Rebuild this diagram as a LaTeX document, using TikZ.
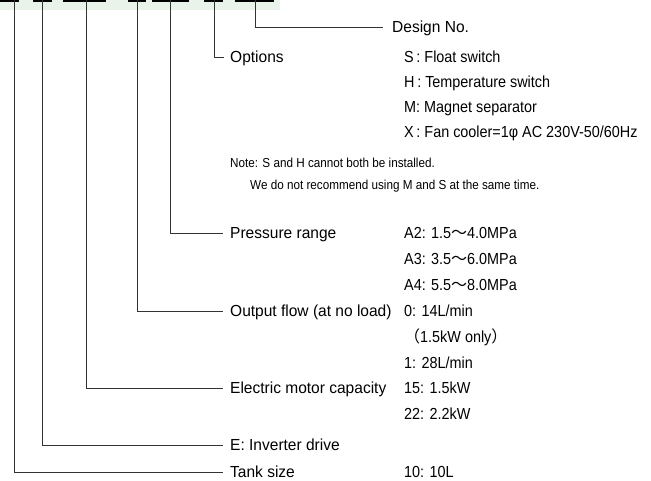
\documentclass[tikz,border=0pt]{standalone}
\usepackage{fontspec}
\setmainfont{Liberation Sans}[FakeStretch=0.9]
\newfontfamily\lblfont{Liberation Sans}[FakeStretch=0.97]
\newfontfamily\cjkfont{Noto Sans CJK JP}
\definecolor{bandgreen}{HTML}{EAF3EA}
\definecolor{linegray}{HTML}{333333}
\newcommand{\wv}{{\cjkfont ～}}
\begin{document}
\begin{tikzpicture}[x=1pt,y=-1pt,
  lbl/.style={anchor=west,inner xsep=7pt,inner ysep=0pt,text height=11pt,text depth=0pt,font=\lblfont\fontsize{16}{16}\selectfont},
  val/.style={anchor=west,inner sep=0pt,text height=11pt,text depth=0pt,font=\fontsize{16}{16}\selectfont},
  notetext/.style={anchor=west,inner sep=0pt,text height=8.5pt,text depth=0pt,font=\fontsize{13}{13}\selectfont},
  conn/.style={draw=linegray,line width=0.9pt},
  seg/.style={draw=black,line width=1.8pt}]
\useasboundingbox (0,0) rectangle (651,481);
\fill[bandgreen] (0,0) rectangle (280,10);
% top segments
\draw[seg] (0,0.9) -- (19,0.9);
\draw[seg] (33,0.9) -- (52,0.9);
\draw[seg] (63,0.9) -- (106,0.9);
\draw[seg] (128,0.9) -- (146,0.9);
\draw[seg] (152,0.9) -- (189,0.9);
\draw[seg] (204,0.9) -- (223,0.9);
\draw[seg] (235,0.9) -- (274,0.9);
\coordinate (t1) at (14,0);
\coordinate (t2) at (42,0);
\coordinate (t3) at (86,0);
\coordinate (t4) at (137,0);
\coordinate (t5) at (170,0);
\coordinate (t6) at (214,0);
\coordinate (t7) at (255,0);
% labels
\node[lbl,inner xsep=9pt] (design) at (383,27) {Design No.};
\node[lbl,inner xsep=6pt] (options) at (224,57) {Options};
\node[lbl] (pressure) at (223,233) {Pressure range};
\node[lbl] (flow) at (223,311) {Output flow (at no load)};
\node[lbl] (motor) at (223,388) {Electric motor capacity};
\node[lbl] (inverter) at (223,445) {E: Inverter drive};
\node[lbl] (tank) at (223,472) {Tank size};
% values
\node[val] (vS) at (404,57) {S\,: Float switch};
\node[val] (vH) at (404,82) {H\,: Temperature switch};
\node[val] (vM) at (404,107) {M: Magnet separator};
\node[val] (vX) at (404,132) {X\,: Fan cooler=1φ AC 230V-50/60Hz};
\node[notetext] (note1) at (230,163) {Note: S and H cannot both be installed.};
\node[notetext] (note2) at (250,185) {We do not recommend using M and S at the same time.};
\node[val] (vA2) at (404,233) {A2: 1.5\wv 4.0MPa};
\node[val] (vA3) at (404,259) {A3: 3.5\wv 6.0MPa};
\node[val] (vA4) at (404,285) {A4: 5.5\wv 8.0MPa};
\node[val] (v0) at (404,311) {0: 14L/min};
\node[val] (v0b) at (404,337) {{\cjkfont （}1.5kW only{\cjkfont ）}};
\node[val] (v1) at (404,363) {1: 28L/min};
\node[val] (v15) at (404,388) {15: 1.5kW};
\node[val] (v22) at (404,414) {22: 2.2kW};
\node[val] (v10) at (404,472) {10: 10L};
% connectors
\draw[conn] (t7) |- (design.west);
\draw[conn] (t6) |- (options.west);
\draw[conn] (t5) |- (pressure.west);
\draw[conn] (t4) |- (flow.west);
\draw[conn] (t3) |- (motor.west);
\draw[conn] (t2) |- (inverter.west);
\draw[conn] (t1) |- (tank.west);
\end{tikzpicture}
\end{document}
